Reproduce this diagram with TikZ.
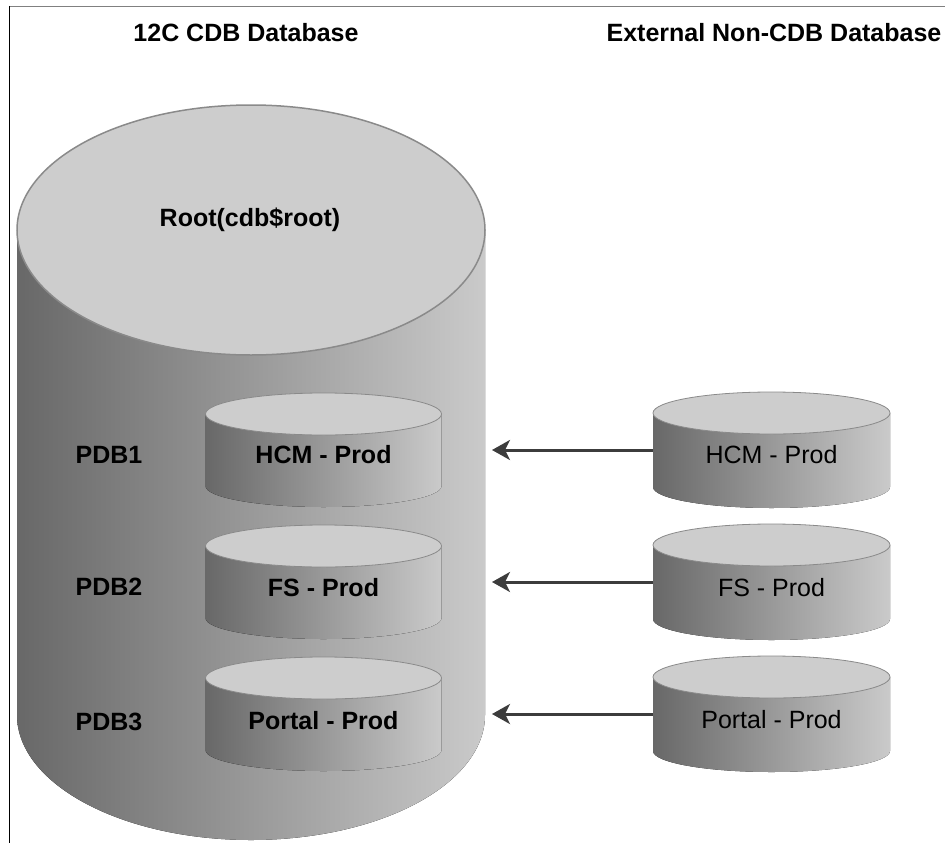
\documentclass[tikz,border=0pt]{standalone}
\usepackage{fontspec}
\setmainfont{Liberation Sans}
\usepackage{tikz}
\usetikzlibrary{arrows.meta}
\definecolor{cylDark}{HTML}{686868}
\definecolor{cylLight}{HTML}{CACACA}
\definecolor{cylTop}{HTML}{CDCDCD}
\definecolor{cylRim}{HTML}{8A8A8A}
\definecolor{arrowGray}{HTML}{3C3C3C}
\newcommand{\pxfont}{\fontsize{25}{30}\selectfont}
% name, centre x, top y, height, x radius, y radius, rim width
\newcommand{\dbdisk}[7]{%
  \fill[left color=cylDark, right color=cylLight] (#2-#5,#3) -- (#2-#5,#3+#4)
    arc[start angle=180, end angle=0, x radius=#5, y radius=#6] -- (#2+#5,#3) -- cycle;
  \draw[cylRim, line width=#7, fill=cylTop] (#2,#3) ellipse[x radius=#5, y radius=#6];
  \node[inner sep=0pt, minimum width={2*#5*1pt}, minimum height={#4*1pt}] (#1) at (#2,#3+#4/2) {};
}

\begin{document}
\begin{tikzpicture}[x=1pt,y=-1pt,
    head/.style={font=\pxfont\bfseries},
    pdb/.style={font=\pxfont\bfseries},
    ext/.style={font=\pxfont},
    feed/.style={-{Stealth[length=18pt,width=20pt,inset=5pt]}, arrowGray, line width=3pt}]
       \useasboundingbox (0,0) rectangle (945,843);
       \draw[gray, line width=1pt] (9,6.5) -- (945,6.5);
       \draw[black, line width=1.5pt] (9.5,6) -- (9.5,843);

       \node[head] (cdbTitle) at (246,33) {12C CDB Database};
       \node[head] (extTitle) at (774,33) {External Non-CDB Database};

       \dbdisk{cdb}{251}{230}{485}{234}{125}{1.5pt}
       \node[pdb] (rootLbl) at (250,220) {Root(cdb\$root)};

       \dbdisk{hcmIn}{323.5}{414}{72}{118}{21}{0.8pt}
       \dbdisk{fsIn}{323.5}{546}{72}{118}{21}{0.8pt}
       \dbdisk{portalIn}{323.5}{678}{72}{118}{21}{0.8pt}
       \node[pdb] (hcmInLbl) at ([yshift=-5pt]hcmIn.center) {HCM - Prod};
       \node[pdb] (fsInLbl) at ([yshift=-6pt]fsIn.center) {FS - Prod};
       \node[pdb] (portalInLbl) at ([yshift=-7pt]portalIn.center) {Portal - Prod};

       \node[pdb] (pdb1) at (109,455) {PDB1};
       \node[pdb] (pdb2) at (109,587) {PDB2};
       \node[pdb] (pdb3) at (109,722) {PDB3};

       \dbdisk{hcmExt}{771.5}{413}{74}{118.5}{21}{0.8pt}
       \dbdisk{fsExt}{771.5}{545}{74}{118.5}{21}{0.8pt}
       \dbdisk{portalExt}{771.5}{677}{74}{118.5}{21}{0.8pt}
       \node[ext] (hcmExtLbl) at ([yshift=-5pt]hcmExt.center) {HCM - Prod};
       \node[ext] (fsExtLbl) at ([yshift=-6pt]fsExt.center) {FS - Prod};
       \node[ext] (portalExtLbl) at ([yshift=-6pt]portalExt.center) {Portal - Prod};

       \coordinate (hcmTip) at (492,450);
       \coordinate (fsTip) at (492,582);
       \coordinate (portalTip) at (492,714);
       \draw[feed] (hcmExt.west) -- (hcmTip);
       \draw[feed] (fsExt.west) -- (fsTip);
       \draw[feed] (portalExt.west) -- (portalTip);
\end{tikzpicture}
\end{document}
